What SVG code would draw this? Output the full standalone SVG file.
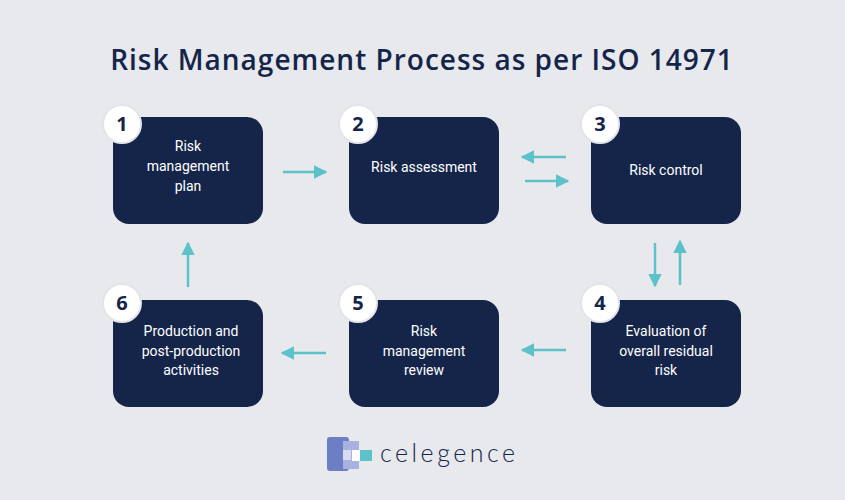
<svg xmlns="http://www.w3.org/2000/svg" width="845" height="500" viewBox="0 0 845 500">
<defs>
<marker id="ah" viewBox="0 0 10 10" refX="9" refY="5" markerWidth="5.5" markerHeight="5.5" orient="auto" markerUnits="strokeWidth"><path d="M0,0 L10,5 L0,10 Z" fill="#5cc1c9"/></marker>
<style>
.box{fill:#15254a}
.lab{font-family:Roboto,"Liberation Sans",sans-serif;font-size:14px;fill:#ffffff;text-anchor:middle}
.bad{fill:#ffffff;stroke:#e2e4e8;stroke-width:2}
.num{font-family:"Open Sans","Liberation Sans",sans-serif;font-weight:bold;font-size:20px;fill:#15254a;text-anchor:middle}
.con{stroke:#5cc1c9;stroke-width:2.5;fill:none;marker-end:url(#ah)}
</style>
</defs>
<rect width="845" height="500" fill="#e8e9ed"/>
<text x="422" y="70" text-anchor="middle" font-family="'Open Sans','Liberation Sans',sans-serif" font-weight="600" font-size="28" letter-spacing="1" fill="#15254a">Risk Management Process as per ISO 14971</text>
<g id="connectors">
<line class="con" x1="283" y1="172" x2="326" y2="172"/>
<line class="con" x1="566" y1="157" x2="522" y2="157"/>
<line class="con" x1="525" y1="181" x2="568" y2="181"/>
<line class="con" x1="655" y1="243" x2="655" y2="286"/>
<line class="con" x1="680" y1="285" x2="680" y2="241"/>
<line class="con" x1="566" y1="350" x2="522" y2="350"/>
<line class="con" x1="326" y1="353" x2="282" y2="353"/>
<line class="con" x1="188" y1="287" x2="188" y2="243"/>
</g>
<g id="n1"><rect class="box" x="113" y="117" width="150" height="107" rx="16"/><text class="lab" x="188" y="151">Risk</text><text class="lab" x="188" y="171">management</text><text class="lab" x="188" y="191">plan</text><circle class="bad" cx="122" cy="124" r="19"/><text class="num" x="122" y="131">1</text></g>
<g id="n2"><rect class="box" x="349" y="117" width="150" height="107" rx="16"/><text class="lab" x="424" y="172">Risk assessment</text><circle class="bad" cx="358" cy="124" r="19"/><text class="num" x="358" y="131">2</text></g>
<g id="n3"><rect class="box" x="591" y="117" width="150" height="107" rx="16"/><text class="lab" x="666" y="175">Risk control</text><circle class="bad" cx="600" cy="124" r="19"/><text class="num" x="600" y="131">3</text></g>
<g id="n4"><rect class="box" x="591" y="300" width="150" height="107" rx="16"/><text class="lab" x="666" y="336">Evaluation of</text><text class="lab" x="666" y="356">overall residual</text><text class="lab" x="666" y="375">risk</text><circle class="bad" cx="600" cy="303" r="19"/><text class="num" x="600" y="310">4</text></g>
<g id="n5"><rect class="box" x="349" y="300" width="150" height="107" rx="16"/><text class="lab" x="424" y="336">Risk</text><text class="lab" x="424" y="356">management</text><text class="lab" x="424" y="375">review</text><circle class="bad" cx="358" cy="303" r="19"/><text class="num" x="358" y="310">5</text></g>
<g id="n6"><rect class="box" x="113" y="300" width="150" height="107" rx="16"/><text class="lab" x="191" y="336">Production and</text><text class="lab" x="191" y="356">post-production</text><text class="lab" x="191" y="375">activities</text><circle class="bad" cx="122" cy="303" r="19"/><text class="num" x="122" y="310">6</text></g>
<g id="logo">
<rect x="327" y="437" width="22" height="34" rx="3" fill="#6d7fc4"/>
<rect x="343" y="441" width="16" height="28" fill="#a7b2e0"/>
<rect x="343" y="450" width="8" height="10" fill="#d6dbef"/>
<rect x="352" y="450" width="20" height="11" fill="#5cc1c9"/>
<rect x="352" y="450" width="8" height="11" fill="#ffffff"/>
<text x="380" y="462" font-family="Lato,'Liberation Sans',sans-serif" font-weight="300" font-size="25" letter-spacing="3.5" fill="#15254a">celegence</text>
</g>
</svg>
